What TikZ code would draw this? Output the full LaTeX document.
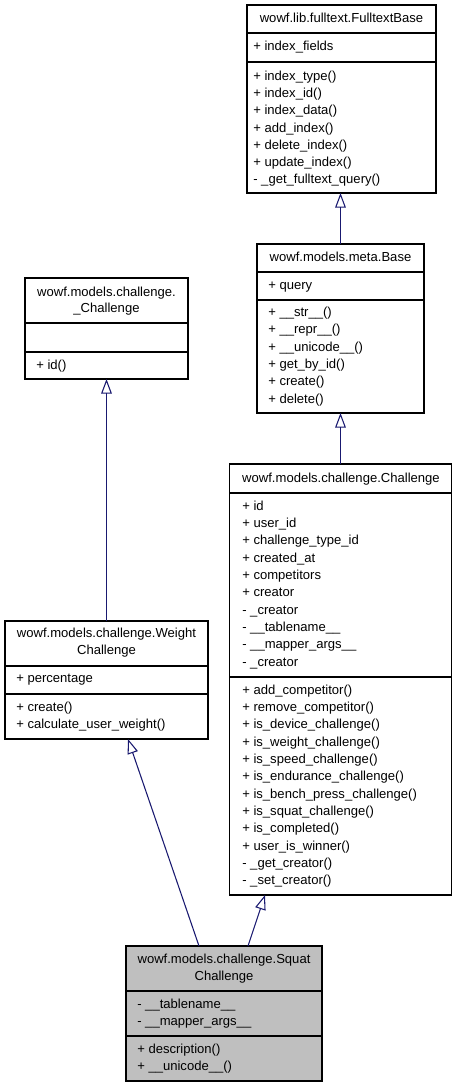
\documentclass[tikz,border=0pt]{standalone}
\usepackage{fontspec}
\setmainfont{Liberation Sans}
\usetikzlibrary{arrows.meta}
\definecolor{edgeblue}{HTML}{191970}
\definecolor{curfill}{HTML}{BFBFBF}
\newcommand\fnt{\fontsize{9.8pt}{12pt}\selectfont}
\newcommand\umlbox[6][white]{%
  \node[umlframe, fill=#1, minimum width={(#4-#3)*0.75pt}, minimum height={(#6-#5)*0.75pt}]
    (#2) at ({(#3+#4)/2},{(#5+#6)/2}) {};}
\newcommand\divider[2]{\draw[divline] (#1.west |- 0,#2) -- (#1.east |- 0,#2);}
\begin{document}
\begin{tikzpicture}[x=0.75pt, y=-0.75pt,
  umlframe/.style={draw=black, line width=0.8pt, inner sep=0pt, outer sep=0pt, rectangle},
  divline/.style={draw=black, line width=0.8pt},
  member/.style={anchor=mid west, inner sep=0pt, font=\fnt},
  ttl/.style={anchor=mid, inner sep=0pt, font=\fnt},
  inherit/.style={draw=edgeblue, line width=0.8pt, -{Triangle[open, length=11pt, width=8pt]}}]
\useasboundingbox (0,0) rectangle (456,1088);
\fill[white] (0,0) rectangle (456,1088);

% ---------- FulltextBase ----------
\umlbox{ftb}{247}{436}{5}{193}
\divider{ftb}{33}
\divider{ftb}{62}
\node[ttl] (ftbt) at (341.5,19) {wowf.lib.fulltext.FulltextBase};
\node[member] (ftba) at (253,47) {+ index\_fields};
\foreach \t [count=\i from 0] in {+ index\_type(), + index\_id(), + index\_data(), + add\_index(), + delete\_index(), + update\_index(), - \_get\_fulltext\_query()}
  \node[member, name=ftbm\i] at (253,{77+17.2*\i}) {\t};

% ---------- meta.Base ----------
\umlbox{base}{257}{424}{244}{413}
\divider{base}{272}
\divider{base}{300}
\node[ttl] (baset) at (340.5,258) {wowf.models.meta.Base};
\node[member] (basea) at (268,286) {+ query};
\foreach \t [count=\i from 0] in {+ \_\_str\_\_(), + \_\_repr\_\_(), + \_\_unicode\_\_(), + get\_by\_id(), + create(), + delete()}
  \node[member, name=basem\i] at (268,{313+17.3*\i}) {\t};

% ---------- _Challenge ----------
\umlbox{uc}{25}{188}{278}{379}
\divider{uc}{323}
\divider{uc}{352}
\node[ttl] (uct1) at (106.5,292.5) {wowf.models.challenge.};
\node[ttl] (uct2) at (106.5,308.5) {\_Challenge};
\node[member] (ucm0) at (36,366) {+ id()};

% ---------- Challenge ----------
\umlbox{ch}{229.5}{451.5}{464}{895}
\divider{ch}{493}
\divider{ch}{677}
\node[ttl] (cht) at (341,478.5) {wowf.models.challenge.Challenge};
\foreach \t [count=\i from 0] in {+ id, + user\_id, + challenge\_type\_id, + created\_at, + competitors, + creator, - \_creator, - \_\_tablename\_\_, - \_\_mapper\_args\_\_, - \_creator}
  \node[member, name=cha\i] at (242,{506.5+17.33*\i}) {\t};
\foreach \t [count=\i from 0] in {+ add\_competitor(), + remove\_competitor(), + is\_device\_challenge(), + is\_weight\_challenge(), + is\_speed\_challenge(), + is\_endurance\_challenge(), + is\_bench\_press\_challenge(), + is\_squat\_challenge(), + is\_completed(), + user\_is\_winner(), - \_get\_creator(), - \_set\_creator()}
  \node[member, name=chm\i] at (242,{690.5+17.36*\i}) {\t};

% ---------- WeightChallenge ----------
\umlbox{wc}{5}{208}{621}{739}
\divider{wc}{666}
\divider{wc}{694}
\node[ttl] (wct1) at (106.5,634) {wowf.models.challenge.Weight};
\node[ttl] (wct2) at (106.5,651) {Challenge};
\node[member] (wca) at (16,679) {+ percentage};
\node[member] (wcm0) at (16,707.5) {+ create()};
\node[member] (wcm1) at (16,725) {+ calculate\_user\_weight()};

% ---------- SquatChallenge ----------
\umlbox[curfill]{sq}{126}{322}{946}{1081}
\divider{sq}{991}
\divider{sq}{1036}
\node[ttl] (sqt1) at (224,959.5) {wowf.models.challenge.Squat};
\node[ttl] (sqt2) at (224,976.5) {Challenge};
\node[member] (sqa0) at (137,1004.5) {- \_\_tablename\_\_};
\node[member] (sqa1) at (137,1022) {- \_\_mapper\_args\_\_};
\node[member] (sqm0) at (137,1049.5) {+ description()};
\node[member] (sqm1) at (137,1067) {+ \_\_unicode\_\_()};

% ---------- inheritance connectors ----------
\coordinate (sqL) at (199,946);
\coordinate (wcB) at (128,739);
\coordinate (sqR) at (248,946);
\coordinate (chB) at (265,895);
\draw[inherit] (base.north) -- (base.north |- ftb.south);
\draw[inherit] (ch.north) -- (ch.north |- base.south);
\draw[inherit] (wc.north) -- (wc.north |- uc.south);
\draw[inherit] (sqL) -- (wcB);
\draw[inherit] (sqR) -- (chB);
\end{tikzpicture}
\end{document}
